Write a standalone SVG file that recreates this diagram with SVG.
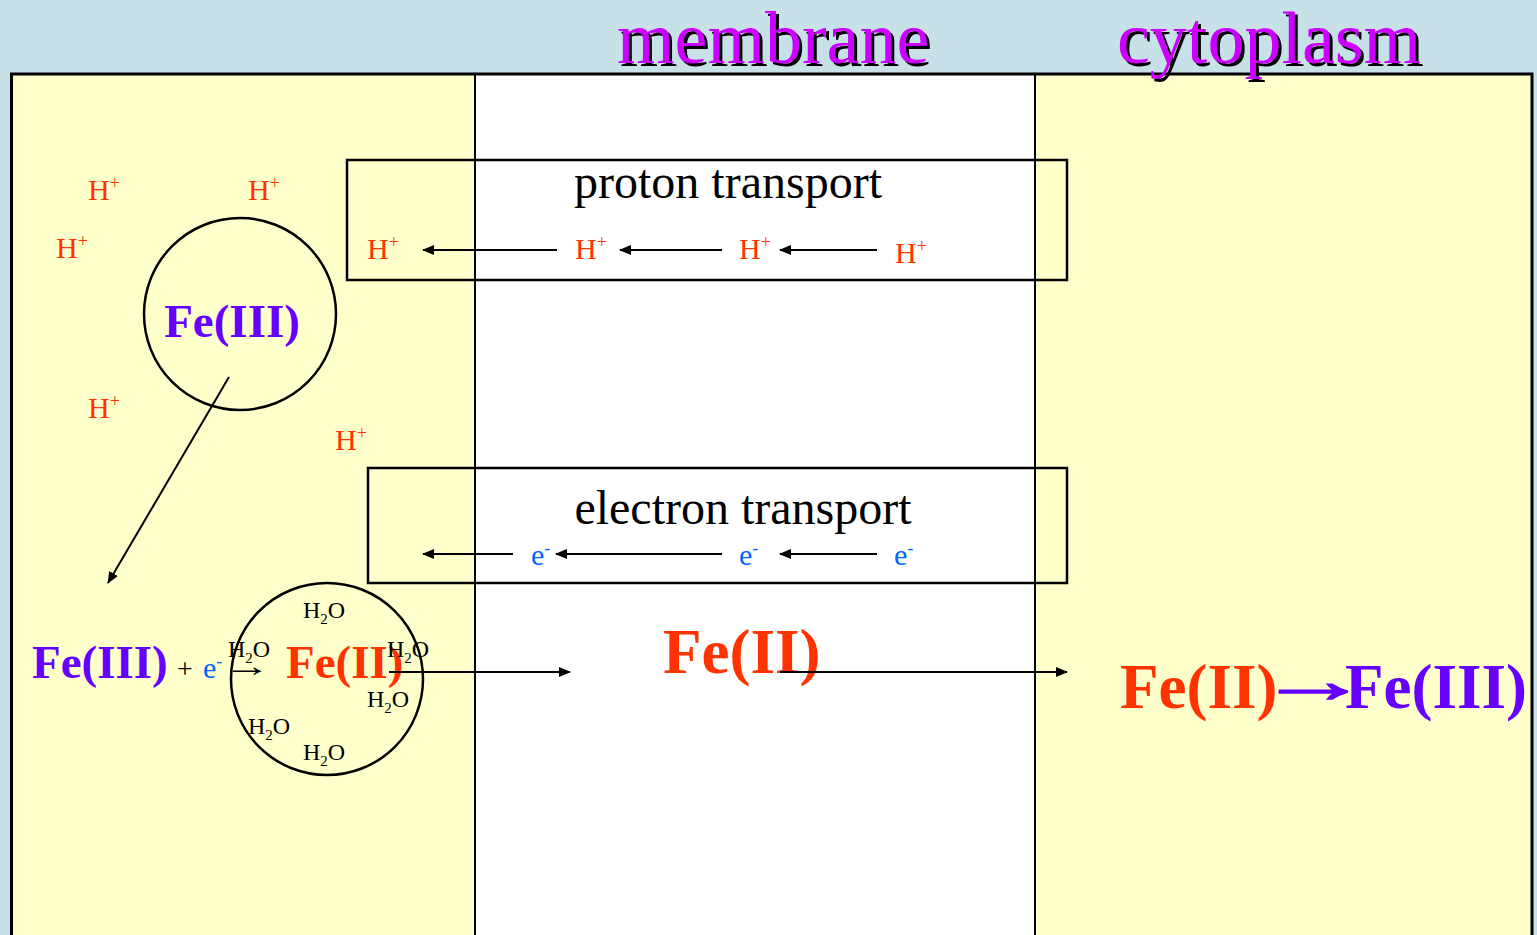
<svg xmlns="http://www.w3.org/2000/svg" width="1537" height="935" viewBox="0 0 1537 935">
<style>
text{font-family:"Liberation Serif","Times New Roman",serif}
.title{font-size:74px;fill:#CC00FF}
.shadow{font-size:74px;fill:#000}
.hp{font-size:30px;fill:#FF3300}
.sup{font-size:18px}
.el{font-size:30px;fill:#0066FF}
.lbl{font-size:48px;fill:#000}
.w{font-size:24px;fill:#000}
.sub{font-size:15px}
.fe3{font-weight:bold;fill:#6600FF}
.fe2{font-weight:bold;fill:#FF3300}
.ln{stroke:#000;stroke-width:2;fill:none}
.box{stroke:#000;stroke-width:2.5;fill:none}
</style>
<defs>
<marker id="ah" markerWidth="12" markerHeight="10" refX="11" refY="5" orient="auto" markerUnits="userSpaceOnUse">
<path d="M0,0 L12,5 L0,10 Z" fill="#000"/>
</marker>
</defs>
<rect width="1537" height="935" fill="#C8E0E8"/>
<g id="panels">
<rect x="12" y="74" width="463" height="870" fill="#FFFFCC"/>
<rect x="475" y="74" width="560" height="870" fill="#FFFFFF"/>
<rect x="1035" y="74" width="497" height="870" fill="#FFFFCC"/>
<path d="M11.5,940 V74 H1532 V940" stroke="#000" stroke-width="3" fill="none"/>
<line x1="475" y1="74" x2="475" y2="935" stroke="#000" stroke-width="2"/>
<line x1="1035" y1="74" x2="1035" y2="935" stroke="#000" stroke-width="2"/>
</g>
<g id="titles">
<text class="shadow" x="620" y="66">membrane</text>
<text class="title" x="617" y="63">membrane</text>
<text class="shadow" x="1120" y="66">cytoplasm</text>
<text class="title" x="1117" y="63">cytoplasm</text>
</g>
<g id="proton-transport">
<rect class="box" x="347" y="160" width="720" height="120"/>
<text class="lbl" x="728" y="198" text-anchor="middle">proton transport</text>
<text class="hp" x="367" y="259">H<tspan class="sup" dy="-11">+</tspan></text>
<text class="hp" x="575" y="259">H<tspan class="sup" dy="-11">+</tspan></text>
<text class="hp" x="739" y="259">H<tspan class="sup" dy="-11">+</tspan></text>
<text class="hp" x="895" y="263">H<tspan class="sup" dy="-11">+</tspan></text>
</g>
<g id="electron-transport">
<rect class="box" x="368" y="468" width="699" height="115"/>
<text class="lbl" x="743" y="524" text-anchor="middle">electron transport</text>
<text class="el" x="531" y="565">e<tspan class="sup" dy="-11">-</tspan></text>
<text class="el" x="739" y="565">e<tspan class="sup" dy="-11">-</tspan></text>
<text class="el" x="894" y="565">e<tspan class="sup" dy="-11">-</tspan></text>
</g>
<g id="protons">
<text class="hp" x="88" y="200">H<tspan class="sup" dy="-11">+</tspan></text>
<text class="hp" x="248" y="200">H<tspan class="sup" dy="-11">+</tspan></text>
<text class="hp" x="56" y="258">H<tspan class="sup" dy="-11">+</tspan></text>
<text class="hp" x="88" y="418">H<tspan class="sup" dy="-11">+</tspan></text>
<text class="hp" x="335" y="450">H<tspan class="sup" dy="-11">+</tspan></text>
</g>
<g id="fe3-particle">
<circle cx="240" cy="314" r="96" fill="none" stroke="#000" stroke-width="2.5"/>
<text class="fe3" x="232" y="337" font-size="47" text-anchor="middle">Fe(III)</text>
</g>
<g id="reduction">
<text class="fe3" x="32" y="678" font-size="47">Fe(III)</text>
<text x="177" y="678" font-size="28" fill="#000">+</text>
<text class="el" x="203" y="678">e<tspan class="sup" dy="-11">-</tspan></text>
<text transform="translate(223 676) scale(1.6 1)" x="0" y="0" font-size="30" fill="#000">→</text>
</g>
<g id="fe2-hydrated">
<circle cx="327" cy="679" r="96" fill="none" stroke="#000" stroke-width="2.5"/>
<text class="fe2" x="286" y="678" font-size="47">Fe(II)</text>
<text class="w" x="303" y="618">H<tspan class="sub" dy="6">2</tspan><tspan dy="-6">O</tspan></text>
<text class="w" x="228" y="657">H<tspan class="sub" dy="6">2</tspan><tspan dy="-6">O</tspan></text>
<text class="w" x="387" y="657">H<tspan class="sub" dy="6">2</tspan><tspan dy="-6">O</tspan></text>
<text class="w" x="367" y="707">H<tspan class="sub" dy="6">2</tspan><tspan dy="-6">O</tspan></text>
<text class="w" x="248" y="734">H<tspan class="sub" dy="6">2</tspan><tspan dy="-6">O</tspan></text>
<text class="w" x="303" y="760">H<tspan class="sub" dy="6">2</tspan><tspan dy="-6">O</tspan></text>
</g>
<g id="fe2-membrane">
<text class="fe2" x="663" y="673" font-size="63">Fe(II)</text>
</g>
<g id="cytoplasm-reaction">
<text class="fe2" x="1120" y="708" font-size="63">Fe(II)</text>
<text transform="translate(1257 702) scale(1.79 1)" x="0" y="0" font-size="63" font-weight="bold" fill="#6600FF" stroke="#6600FF" stroke-width="1.6">→</text>
<text class="fe3" x="1345" y="708" font-size="63">Fe(III)</text>
</g>
<g id="connectors">
<line class="ln" x1="557" y1="250" x2="423" y2="250" marker-end="url(#ah)"/>
<line class="ln" x1="722" y1="250" x2="620" y2="250" marker-end="url(#ah)"/>
<line class="ln" x1="877" y1="250" x2="780" y2="250" marker-end="url(#ah)"/>
<line class="ln" x1="513" y1="554" x2="423" y2="554" marker-end="url(#ah)"/>
<line class="ln" x1="722" y1="554" x2="556" y2="554" marker-end="url(#ah)"/>
<line class="ln" x1="877" y1="554" x2="780" y2="554" marker-end="url(#ah)"/>
<line class="ln" x1="229" y1="377" x2="108" y2="583" marker-end="url(#ah)"/>
<line class="ln" x1="389" y1="672" x2="570" y2="672" marker-end="url(#ah)"/>
<line class="ln" x1="780" y1="672" x2="1067" y2="672" marker-end="url(#ah)"/>
</g>
</svg>
